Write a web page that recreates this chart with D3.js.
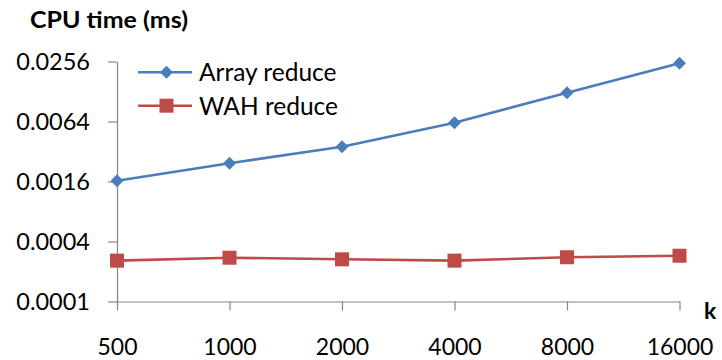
<!DOCTYPE html>
<html><head><meta charset="utf-8">
<script src="https://cdn.jsdelivr.net/npm/d3@7"></script>
<style>
body{margin:0;background:#fff;}
svg{display:block;font-family:Lato, "Open Sans", sans-serif;}
</style></head>
<body><svg id="c" width="722" height="360"></svg>
<script>
const categories = ["500","1000","2000","4000","8000","16000"];
const arrayReduce = [0.00163, 0.00244, 0.00357, 0.00622, 0.01245, 0.02455];
const wahReduce = [0.000257, 0.000275, 0.000265, 0.000257, 0.000278, 0.000288];
const yTicks = [0.0001, 0.0004, 0.0016, 0.0064, 0.0256];
const yTickLabels = ["0.0001","0.0004","0.0016","0.0064","0.0256"];
const seriesNames = ["Array reduce","WAH reduce"];

const svg = d3.select("#c");
const x = d3.scalePoint().domain(categories).range([117, 679.5]);
const y = d3.scaleLog().base(4).domain([0.0001, 0.0256]).range([301.5, 61.5]);
const axisColor = "#868686";

const ya = svg.append("g").attr("transform","translate(117,0)")
  .call(d3.axisLeft(y).tickValues(yTicks).tickFormat((d,i)=>yTickLabels[i]).tickSize(9).tickSizeOuter(0).tickPadding(18));
ya.select(".domain").attr("stroke",axisColor).attr("stroke-width",1.2);
ya.selectAll(".tick line").attr("stroke",axisColor).attr("stroke-width",1.2);
ya.selectAll(".tick text").attr("font-size",23.5).attr("fill","#000").attr("font-family","Lato").attr("dy","0.36em");

const xa = svg.append("g").attr("transform","translate(0,301.5)")
  .call(d3.axisBottom(x).tickSize(9).tickSizeOuter(0).tickPadding(36));
xa.select(".domain").attr("stroke",axisColor).attr("stroke-width",1.2);
xa.selectAll(".tick line").attr("stroke",axisColor).attr("stroke-width",1.2);
xa.selectAll(".tick text").attr("font-size",23).attr("fill","#000").attr("font-family","Lato").attr("dy","0.36em");

svg.append("text").attr("x",30).attr("y",28).attr("font-size",23).attr("font-weight","bold")
  .attr("textLength",158).attr("lengthAdjust","spacingAndGlyphs").text("CPU time (ms)");
svg.append("text").attr("x",704).attr("y",319).attr("font-size",23).attr("font-weight","bold").text("k");

const blue = "#4A7EBB", red = "#BE4B48";
const line = d3.line().x((d,i)=>x(categories[i])).y(d=>y(d));
svg.append("path").datum(arrayReduce).attr("d",line).attr("fill","none").attr("stroke",blue).attr("stroke-width",2.6);
svg.append("path").datum(wahReduce).attr("d",line).attr("fill","none").attr("stroke",red).attr("stroke-width",2.6);

const diamond = d3.symbol().type(d3.symbolSquare).size(85);
svg.selectAll(".dm").data(arrayReduce).enter().append("path")
  .attr("transform",(d,i)=>`translate(${x(categories[i])},${y(d)}) rotate(45)`)
  .attr("d",diamond).attr("fill",blue);
svg.selectAll(".sq").data(wahReduce).enter().append("rect")
  .attr("x",(d,i)=>x(categories[i])-7).attr("y",d=>y(d)-7).attr("width",14).attr("height",14).attr("fill",red);

// legend
const lg = svg.append("g");
const legY = [72.3, 105.7];
seriesNames.forEach((n,i)=>{
  const c = i===0?blue:red;
  lg.append("line").attr("x1",138).attr("x2",192).attr("y1",legY[i]).attr("y2",legY[i]).attr("stroke",c).attr("stroke-width",2.6);
  if(i===0) lg.append("path").attr("transform",`translate(166.5,${legY[i]}) rotate(45)`).attr("d",diamond).attr("fill",c);
  else lg.append("rect").attr("x",159.5).attr("y",legY[i]-7).attr("width",14).attr("height",14).attr("fill",c);
  lg.append("text").attr("x",199).attr("y",legY[i]).attr("dy","0.36em").attr("font-size",24.5).text(n);
});
</script></body></html>
